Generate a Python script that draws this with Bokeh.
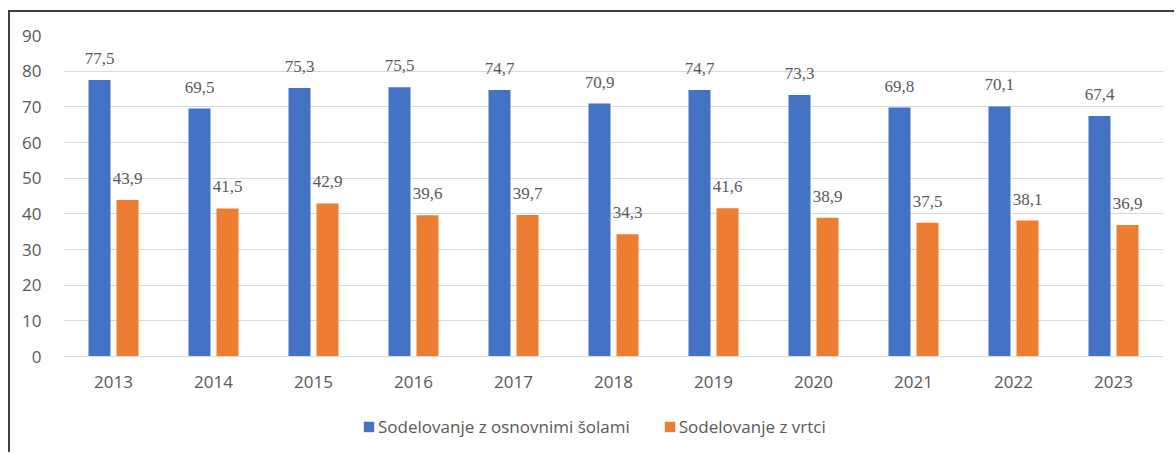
from bokeh.plotting import figure
from bokeh.models import ColumnDataSource, FactorRange, Legend, LegendItem, LabelSet, Range1d
from bokeh.layouts import column
from bokeh.transform import dodge
from bokeh.embed import file_html
from bokeh.resources import INLINE

years = ["2013", "2014", "2015", "2016", "2017", "2018", "2019", "2020", "2021", "2022", "2023"]
schools = [77.5, 69.5, 75.3, 75.5, 74.7, 70.9, 74.7, 73.3, 69.8, 70.1, 67.4]
kindergartens = [43.9, 41.5, 42.9, 39.6, 39.7, 34.3, 41.6, 38.9, 37.5, 38.1, 36.9]
series_names = ["Sodelovanje z osnovnimi šolami", "Sodelovanje z vrtci"]
y_ticks = [0, 10, 20, 30, 40, 50, 60, 70, 80, 90]

BLUE = "#4472C4"
ORANGE = "#ED7D31"
TXT = "#595959"
FONT = "Open Sans"
FS = "17px"

src = ColumnDataSource(dict(
    years=years,
    s=schools,
    k=kindergartens,
    s_lab=[f"{v:.1f}".replace(".", ",") for v in schools],
    k_lab=[f"{v:.1f}".replace(".", ",") for v in kindergartens],
))

p = figure(x_range=FactorRange(*years, range_padding=0), y_range=(0, 90),
           width=1164, height=384, output_backend="svg", toolbar_location=None,
           min_border_left=53, min_border_right=11, min_border_top=23, min_border_bottom=40)
p.outline_line_color = None
p.background_fill_color = "white"
p.border_fill_color = "white"

r1 = p.vbar(x=dodge("years", -0.14, range=p.x_range), top="s", width=0.22, source=src,
            color=BLUE, line_color=None)
r2 = p.vbar(x=dodge("years", 0.14, range=p.x_range), top="k", width=0.22, source=src,
            color=ORANGE, line_color=None)

for col, lab, off in (("s", "s_lab", -0.14), ("k", "k_lab", 0.14)):
    ls = LabelSet(x=dodge("years", off, range=p.x_range), y=col, text=lab, source=src,
                  text_align="center", text_baseline="alphabetic", y_offset=16,
                  text_font=FONT, text_font_size=FS, text_color=TXT)
    p.add_layout(ls)

p.xgrid.grid_line_color = None
p.ygrid.grid_line_color = "#d9d9d9"
p.ygrid.grid_line_width = 1
p.yaxis.ticker = y_ticks
p.yaxis.axis_line_color = None
p.yaxis.major_tick_line_color = None
p.yaxis.minor_tick_line_color = None
p.yaxis.major_label_standoff = 16
p.xaxis.axis_line_color = "#d9d9d9"
p.xaxis.major_tick_line_color = None
p.xaxis.minor_tick_line_color = None
p.xaxis.major_label_standoff = 13
for ax in (p.xaxis, p.yaxis):
    ax.major_label_text_font = FONT
    ax.major_label_text_font_size = FS
    ax.major_label_text_color = TXT

# legend lives in its own strip below the chart
lf = figure(width=1164, height=56, output_backend="svg", toolbar_location=None,
            x_range=Range1d(0, 1), y_range=Range1d(0, 1),
            min_border_left=0, min_border_right=0, min_border_top=0, min_border_bottom=0)
lf.axis.visible = False
lf.grid.visible = False
lf.outline_line_color = None
lf.border_fill_color = "white"
lr1 = lf.vbar(x=[-5], top=[-5], width=0.1, color=BLUE, line_color=None)
lr2 = lf.vbar(x=[-5], top=[-5], width=0.1, color=ORANGE, line_color=None)

legend = Legend(items=[LegendItem(label=series_names[0], renderers=[lr1], index=0),
                       LegendItem(label=series_names[1], renderers=[lr2], index=0)],
                orientation="horizontal", location=(299, 14),
                glyph_width=13, glyph_height=13, label_standoff=3, spacing=33,
                label_text_font=FONT, label_text_font_size=FS, label_text_color=TXT,
                border_line_color=None, background_fill_alpha=0, margin=0, padding=0)
lf.add_layout(legend)

layout = column(p, lf, margin=(10, 0, 0, 8), spacing=0,
                styles={"border-top": "2px solid #404040", "border-left": "2px solid #404040"})
open("out.html", "w").write(file_html(layout, INLINE))
